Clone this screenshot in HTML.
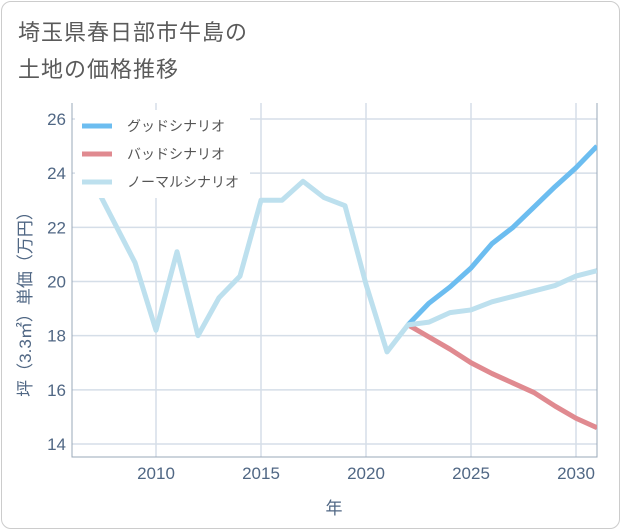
<!DOCTYPE html>
<html><head><meta charset="utf-8"><style>
body{margin:0;background:#fff;font-family:"Liberation Sans","Noto Sans CJK JP",sans-serif}
.card{position:absolute;left:1px;top:1px;width:617px;height:526px;border:1px solid #ccc;border-radius:10px;background:#fff}
.title{position:absolute;left:18px;top:14px;font-size:22px;line-height:37px;color:#5a5a5a;letter-spacing:1px}
</style></head><body>
<div class="card"></div>
<div class="title">埼玉県春日部市牛島の<br>土地の価格推移</div>
<svg id="c" width="621" height="530" style="position:absolute;left:0;top:0"></svg>
<script>
const years=[2007,2008,2009,2010,2011,2012,2013,2014,2015,2016,2017,2018,2019,2020,2021,2022];
const normalHist=[23.7,22.2,20.7,18.2,21.1,18.0,19.4,20.2,23.0,23.0,23.7,23.1,22.8,19.9,17.4,18.4];
const futureYears=[2022,2023,2024,2025,2026,2027,2028,2029,2030,2031];
const goodVals=[18.4,19.2,19.8,20.5,21.4,22.0,22.75,23.5,24.2,25.0];
const badVals=[18.4,17.95,17.5,17.0,16.6,16.25,15.9,15.4,14.95,14.6];
const normalVals=[18.4,18.5,18.85,18.95,19.25,19.45,19.65,19.85,20.2,20.4];
const xTicks=[2010,2015,2020,2025,2030];
const yTicks=[14,16,18,20,22,24,26];
const L=72,R=597,T=103,B=457;
const x=v=>156+(v-2010)*21;
const y=v=>444-(v-14)*27.083;
const svg=document.getElementById('c');
const NS='http://www.w3.org/2000/svg';
function mk(t,a,p){const e=document.createElementNS(NS,t);for(const k in a)e.setAttribute(k,a[k]);(p||svg).appendChild(e);return e;}
const defs=mk('defs',{});const cp=mk('clipPath',{id:'cp'},defs);mk('rect',{x:L,y:T,width:R-L,height:B-T},cp);
xTicks.forEach(t=>{const l=mk('line',{x1:x(t),x2:x(t),y1:T,y2:B,stroke:'#d5dee8','stroke-width':1.5});

const s=mk('text',{x:x(t),y:479,'text-anchor':'middle','font-size':17,fill:'#506784'});s.textContent=t;
});
yTicks.forEach(t=>{const l=mk('line',{x1:L,x2:R,y1:y(t),y2:y(t),stroke:'#d5dee8','stroke-width':1.5});

const s=mk('text',{x:66,y:y(t)+6,'text-anchor':'end','font-size':17,fill:'#506784'});s.textContent=t;
});
const ax=mk('path',{d:`M${L},${T}V${B}H${R}V${T}`,fill:'none',stroke:'#9aa8b8','stroke-width':1});

const g=mk('g',{'clip-path':'url(#cp)'});
function line(xs,vs,c,n){const p=mk('polyline',{points:xs.map((v,i)=>x(v)+','+y(vs[i])).join(' '),fill:'none',stroke:c,'stroke-width':5,'stroke-linejoin':'round'},g);
}
line(futureYears,badVals,'#e08a90','bad-scenario-line');
line(futureYears,goodVals,'#6cbdf0','good-scenario-line');
line(years.concat(futureYears.slice(1)),normalHist.concat(normalVals.slice(1)),'#bde0ee','normal-scenario-line');
const lg=mk('rect',{x:75,y:110,width:175,height:88,fill:'#fff'});

[['グッドシナリオ','#6cbdf0'],['バッドシナリオ','#e08a90'],['ノーマルシナリオ','#bde0ee']].forEach((d,i)=>{
const yy=126+i*28;const l=mk('line',{x1:82,x2:112,y1:yy,y2:yy,stroke:d[1],'stroke-width':5});

const s=mk('text',{x:127,y:yy+5,'font-size':14,fill:'#555'});s.textContent=d[0];
});
const xt=mk('text',{x:334,y:514,'text-anchor':'middle','font-size':17,fill:'#506784'});xt.textContent='年';

const yt=mk('text',{x:0,y:0,'text-anchor':'middle','font-size':17,fill:'#506784',transform:'translate(31,300) rotate(-90)'});yt.textContent='坪（3.3㎡）単価（万円）';

</script>
</body></html>
